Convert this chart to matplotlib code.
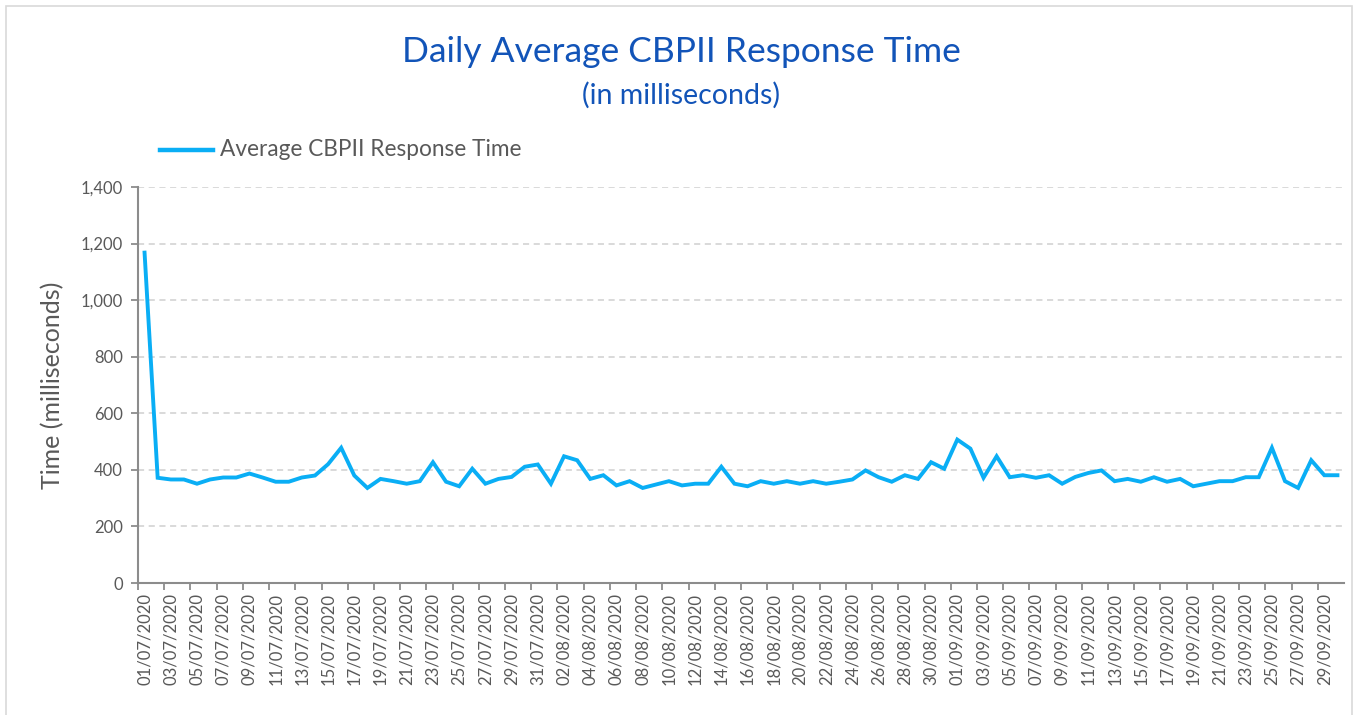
import numpy as np
import pandas as pd
import matplotlib as mpl
mpl.use("Agg")
import matplotlib.pyplot as plt
from matplotlib.patches import Rectangle
from matplotlib.ticker import FuncFormatter

# daily values, 01/07/2020 - 30/09/2020
dates = pd.date_range("2020-07-01", "2020-09-30", freq="D")
response_ms = [
    1168, 372, 366, 366, 351, 366, 373, 373, 387, 373,
    358, 358, 373, 380, 420, 478, 380, 336, 368, 360,
    351, 360, 427, 358, 342, 404, 351, 368, 375, 411,
    419, 351, 448, 434, 368, 381, 345, 360, 336, 348,
    360, 345, 351, 351, 411, 351, 342, 360, 351, 360,
    351, 360, 351, 358, 366, 398, 374, 358, 381, 368,
    427, 404, 507, 475, 372, 448, 374, 381, 372, 381,
    351, 375, 389, 398, 360, 368, 358, 374, 358, 368,
    342, 351, 360, 360, 374, 374, 478, 360, 336, 434,
    381, 381,
]
series_name = "Average CBPII Response Time"
title = "Daily Average CBPII Response Time"
subtitle = "(in milliseconds)"
y_label = "Time (milliseconds)"
y_ticks = [0, 200, 400, 600, 800, 1000, 1200, 1400]

plt.rcParams['font.family'] = ['Lato', 'DejaVu Sans']
grey = '#595959'
line_col = '#0AAEF5'

W, H = 1354, 715
fig = plt.figure(figsize=(W / 100, H / 100), dpi=100)

# outer chart border
fig.patches.append(Rectangle((6 / W, -0.01), (1352 - 6) / W, 1 - 6 / H + 0.01,
                             transform=fig.transFigure, fill=False,
                             edgecolor='#D9D9D9', linewidth=1.2))

ax = fig.add_axes([138 / W, 1 - 583 / H, (1344 - 138) / W, (583 - 187) / H])
x = np.arange(len(dates))
ax.plot(x, response_ms, color=line_col, linewidth=2.8, solid_joinstyle='miter')

ax.set_xlim(-0.5, len(dates) - 0.5)
ax.set_ylim(0, 1400)
ax.set_yticks(y_ticks)
ax.yaxis.set_major_formatter(FuncFormatter(lambda v, p: f"{int(v):,}"))
ax.grid(axis='y', color='#D0D0D0', linestyle=(0, (4, 3)), linewidth=1.1)
ax.set_axisbelow(True)

ax.set_xticks(x[::2])
ax.set_xticklabels([d.strftime("%d/%m/%Y") for d in dates[::2]], rotation=90)
ax.set_xticks(x[::2] - 0.5, minor=True)
ax.tick_params(axis='x', which='major', length=0, pad=7, labelsize=12, labelcolor=grey)
ax.tick_params(axis='x', which='minor', length=5, width=1.3, color='#8C8C8C', direction='out')
ax.tick_params(axis='y', length=5, width=1.3, color='#8C8C8C', labelsize=12, labelcolor=grey, pad=6)

for s in ['top', 'right']:
    ax.spines[s].set_visible(False)
for s in ['left', 'bottom']:
    ax.spines[s].set_color('#8C8C8C')
    ax.spines[s].set_linewidth(1.5)

ax.set_ylabel(y_label, fontsize=18, color=grey, labelpad=12)

fig.text(681 / W, 1 - 52 / H, title, ha='center', va='center', fontsize=25.5, color='#1254B8')
fig.text(681 / W, 1 - 95 / H, subtitle, ha='center', va='center', fontsize=20.5, color='#1254B8')

# legend
fig.lines.append(plt.Line2D([160 / W, 213 / W], [1 - 150 / H] * 2, transform=fig.transFigure,
                            color=line_col, linewidth=3.2))
fig.text(220 / W, 1 - 150 / H, series_name, ha='left', va='center', fontsize=16.3, color=grey)

fig.savefig("out.png", dpi=100)
